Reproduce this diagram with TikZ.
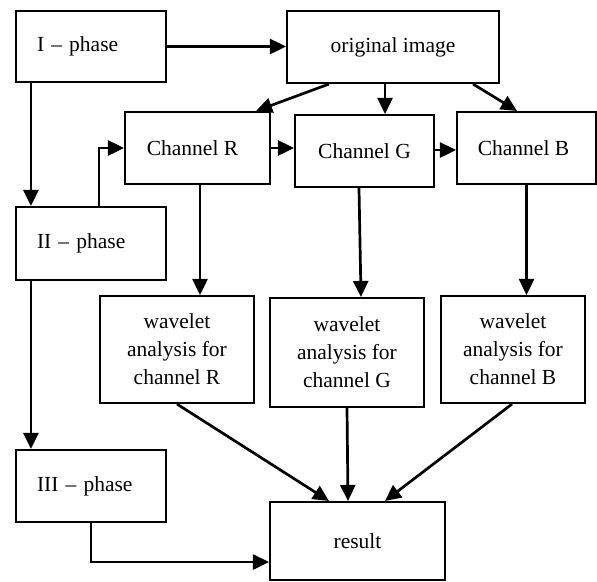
\documentclass[tikz,border=0pt]{standalone}
\usepackage{fontspec}
\setmainfont{Liberation Serif}
\usetikzlibrary{arrows.meta,calc}
\begin{document}
\begin{tikzpicture}[x=1pt,y=-1pt,
  box/.style={draw, line width=2.1pt, rectangle, inner sep=0pt, font=\fontsize{21.5}{28}\selectfont, align=center},
  phase/.style={box, minimum width=150pt, minimum height=71pt, text width=108pt, align=left},
  arr/.style={line width=2.7pt, -{Triangle[length=16pt,width=15pt]}}]
\useasboundingbox (0,0) rectangle (597,581);
% nodes
\node[phase] (p1) at (91,46.5) {I – phase};
\node[phase, minimum height=73pt] (p2) at (91,243.5) {II – phase};
\node[phase, minimum height=72pt] (p3) at (91,486) {III – phase};
\node[box, minimum width=212pt, minimum height=72pt] (orig) at (393,47) {original image};
\node[box, minimum width=145pt, minimum height=72pt] (chR) at (197.5,148) {Channel R\hspace*{10pt}};
\node[box, minimum width=139pt, minimum height=72pt] (chG) at (364.5,151) {Channel G};
\node[box, minimum width=139pt, minimum height=72pt] (chB) at (526.5,148) {Channel B\hspace*{6pt}};
\node[box, minimum width=154pt, minimum height=107pt] (wR) at (177,349.5) {wavelet\\analysis for\\channel R};
\node[box, minimum width=154pt, minimum height=109pt] (wG) at (347,352.5) {wavelet\\analysis for\\channel G};
\node[box, minimum width=144pt, minimum height=107pt] (wB) at (513,349.5) {wavelet\\analysis for\\channel B};
\node[box, minimum width=175pt, minimum height=78pt] (res) at (357.5,541) {result};
% connectors
\draw[arr] (p1.east) -- (p1.east -| orig.west);
\draw[arr] ([xshift=43pt]orig.south west) -- ([xshift=-15pt]chR.north east);
\draw[arr] ([xshift=-8pt]orig.south) -- ([xshift=-8pt]orig.south |- chG.north);
\draw[arr] ([xshift=-27pt]orig.south east) -- ([xshift=-9.5pt]chB.north);
\draw[arr] (chR.east) -- (chR.east -| chG.west);
\draw[arr] ([yshift=1pt]chG.east) -- ([yshift=1pt]chG.east -| chB.west);
\draw[arr] ([xshift=16pt]p1.south west) -- ([xshift=16pt]p2.north west);
\draw[arr] ([xshift=84pt]p2.north west) |- (chR.west);
\draw[arr] ([xshift=2.5pt]chR.south) -- ([xshift=2.5pt]chR.south |- wR.north);
\draw[arr] ([xshift=-5.5pt]chG.south) -- ([xshift=14pt]wG.north);
\draw[arr] (chB.south) -- (chB.south |- wB.north);
\draw[arr] ([xshift=16pt]p2.south west) -- ([xshift=16pt]p3.north west);
\draw[arr] (wR.south) -- ([xshift=-28.5pt]res.north);
\draw[arr] (wG.south) -- ([xshift=-9.5pt]res.north);
\draw[arr] ([xshift=-1pt]wB.south) -- ([xshift=27.5pt]res.north);
\draw[arr] (p3.south) |- ([yshift=-21pt]res.west);
\end{tikzpicture}
\end{document}
